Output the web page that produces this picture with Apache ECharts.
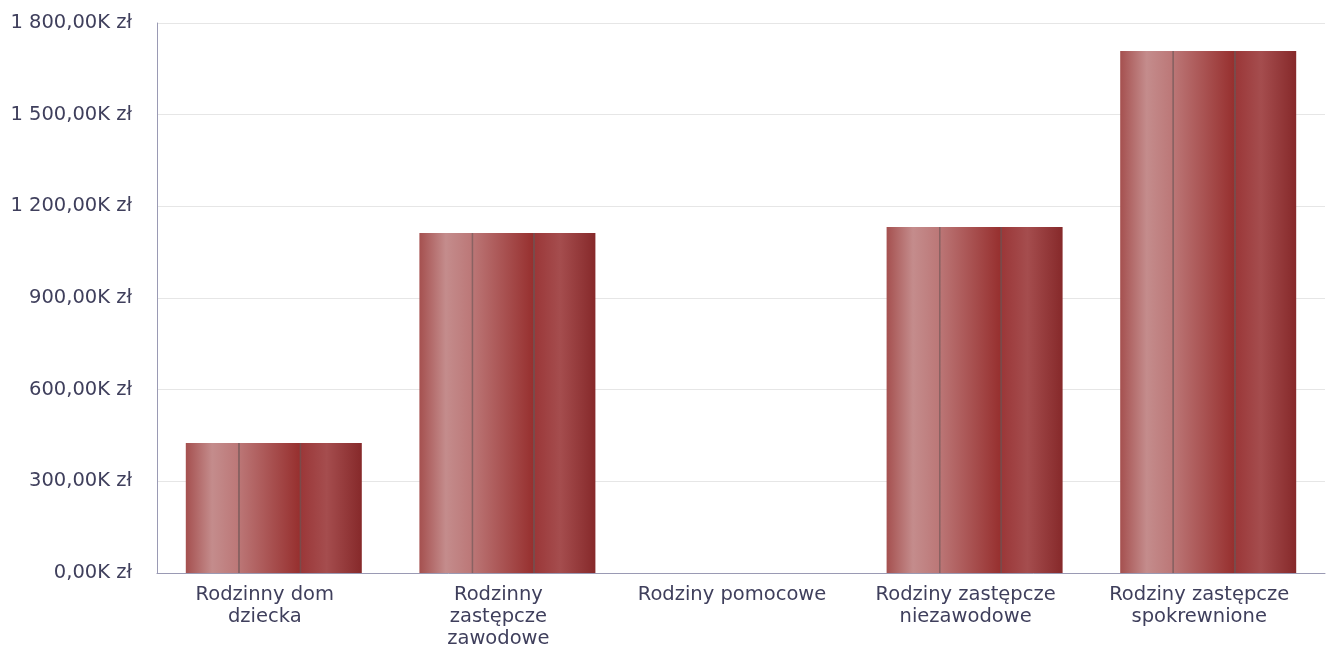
<!DOCTYPE html>
<html>
<head>
<meta charset="utf-8">
<script src="https://cdn.jsdelivr.net/npm/echarts@6/dist/echarts.min.js"></script>
<style>
  html, body { margin: 0; padding: 0; background: #fff; }
  #chart { width: 1328px; height: 650px; }
</style>
</head>
<body>
<div id="chart"></div>
<script>
// kategorie (z podziałem linii jak na wykresie)
var categories = [
    "Rodzinny dom\ndziecka",
    "Rodzinny\nzastępcze\nzawodowe",
    "Rodziny pomocowe",
    "Rodziny zastępcze\nniezawodowe",
    "Rodziny zastępcze\nspokrewnione"
];
// wartości w tys. zł
var values = [425.5, 1112.7, 0, 1132.4, 1708.4];
var yTicks = { min: 0, max: 1800, interval: 300 };

function fmtK(v) {
    var parts = v.toFixed(2).split(".");
    var intPart = parts[0].replace(/\B(?=(\d{3})+(?!\d))/g, " ");
    return intPart + "," + parts[1] + "K zł";
}

var barColor = new echarts.graphic.LinearGradient(0, 0, 1, 0, [
    { offset: 0, color: "#a5504f" },
    { offset: 0.15, color: "#c48c8c" },
    { offset: 0.295, color: "#bc7878" },
    { offset: 0.298, color: "#8a6262" },
    { offset: 0.305, color: "#8a6262" },
    { offset: 0.308, color: "#bb7575" },
    { offset: 0.645, color: "#97302f" },
    { offset: 0.648, color: "#7a4a4a" },
    { offset: 0.655, color: "#7a4a4a" },
    { offset: 0.658, color: "#9b3839" },
    { offset: 0.8, color: "#a54d4e" },
    { offset: 1, color: "#86292a" }
]);

var myChart = echarts.init(document.getElementById("chart"));
var option = {
    backgroundColor: "#ffffff",
    animation: false,
    grid: { left: 157, right: 3, top: 23, bottom: 77 },
    xAxis: {
        type: "category",
        data: categories,
        axisLine: { show: true, lineStyle: { color: "#9a9ab4", width: 1 } },
        axisTick: { show: false },
        axisLabel: {
            interval: 0,
            color: "#3f3f5c",
            fontSize: 19.5,
            fontFamily: "DejaVu Sans",
            lineHeight: 22,
            margin: 11,
            padding: [0, 18, 0, 0]
        }
    },
    yAxis: {
        type: "value",
        min: yTicks.min,
        max: yTicks.max,
        interval: yTicks.interval,
        axisLine: { show: true, lineStyle: { color: "#9a9ab4", width: 1 } },
        axisTick: { show: false },
        splitLine: { show: true, lineStyle: { color: "#e6e6e6" } },
        axisLabel: {
            color: "#3f3f5c",
            fontSize: 19.5,
            fontFamily: "DejaVu Sans",
            margin: 25,
            formatter: fmtK
        }
    },
    series: [{
        type: "bar",
        data: values,
        barWidth: 176,
        itemStyle: { color: barColor }
    }]
};
myChart.setOption(option);
</script>
</body>
</html>
